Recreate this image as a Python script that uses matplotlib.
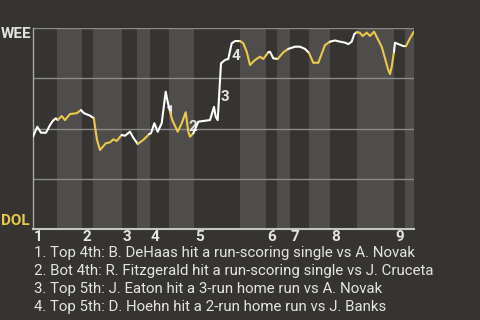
import matplotlib
matplotlib.use("Agg")
import matplotlib.pyplot as plt
from matplotlib.transforms import blended_transform_factory

# ---- data ----
# game progress (% of plays) and WEE win probability
progress = [0.0, 1.13, 2.10, 3.41, 4.46, 5.17, 5.96, 6.48, 7.53, 8.40,
            9.71, 11.47, 12.60, 13.39, 14.96, 15.96, 16.80, 17.59, 18.19, 19.08,
            20.21, 21.08, 21.97, 23.28, 24.15, 25.46, 26.33, 27.48, 28.95, 30.52,
            30.97, 31.84, 32.73, 33.78, 34.83, 35.35, 35.96, 36.56, 37.98, 39.03,
            40.08, 40.76, 41.21, 42.07, 43.39, 46.46, 47.51, 47.95, 48.48, 49.34,
            50.39, 51.26, 52.15, 53.02, 54.33, 55.20, 56.09, 56.96, 58.27, 59.58,
            60.45, 61.76, 62.20, 63.07, 64.23, 65.70, 67.01, 68.77, 70.08, 71.39,
            72.44, 73.57, 74.88, 76.64, 77.95, 79.27, 80.58, 81.89, 82.76, 83.65,
            84.33, 84.96, 85.75, 86.54, 87.59, 88.45, 89.50, 90.63, 91.52, 92.39,
            93.25, 93.70, 94.15, 94.75, 95.01, 95.88, 97.19, 97.90, 98.95, 100.0]
wee_wp = [0.459, 0.509, 0.479, 0.479, 0.517, 0.537, 0.551, 0.542, 0.562, 0.542,
          0.572, 0.576, 0.592, 0.576, 0.564, 0.551, 0.443, 0.393, 0.406, 0.426,
          0.431, 0.446, 0.438, 0.468, 0.464, 0.484, 0.454, 0.423, 0.443, 0.473,
          0.476, 0.526, 0.484, 0.526, 0.683, 0.633, 0.584, 0.542, 0.484, 0.526,
          0.581, 0.484, 0.459, 0.476, 0.534, 0.542, 0.608, 0.559, 0.542, 0.824,
          0.841, 0.846, 0.924, 0.935, 0.935, 0.924, 0.882, 0.816, 0.841, 0.857,
          0.846, 0.879, 0.882, 0.849, 0.846, 0.879, 0.896, 0.907, 0.907, 0.896,
          0.876, 0.827, 0.827, 0.915, 0.932, 0.938, 0.932, 0.927, 0.920, 0.932,
          0.970, 0.979, 0.977, 0.960, 0.977, 0.960, 0.982, 0.940, 0.907, 0.849,
          0.791, 0.771, 0.807, 0.882, 0.927, 0.920, 0.910, 0.910, 0.949, 0.982]

inning_labels = ["1", "2", "3", "4", "5", "6", "7", "8", "9"]
top_starts = [0.0, 12.86, 23.36, 30.71, 42.26, 61.15, 67.45, 77.95, 94.75]
bot_starts = [6.30, 15.75, 27.30, 35.70, 54.33, 64.04, 72.44, 85.04, 97.64]
game_end = 100.0

event_labels = ["1", "2", "3", "4"]
event_segment = [33, 40, 48, 51]   # play index where the key play starts
event_texts = [
    "1. Top 4th: B. DeHaas hit a run-scoring single vs A. Novak",
    "2. Bot 4th: R. Fitzgerald hit a run-scoring single vs J. Cruceta",
    "3. Top 5th: J. Eaton hit a 3-run home run vs A. Novak",
    "4. Top 5th: D. Hoehn hit a 2-run home run vs J. Banks",
]
away_team, home_team = "WEE", "DOL"

# ---- style ----
BG = "#363431"
BAND = "#4e4d4b"
GRID = "#8a8a88"
AXIS = "#c4c4c4"
WHITE = "#ffffff"
YELLOW = "#ecc94b"
TXT = "#e4e4e4"
FONT = "Roboto"

plt.rcParams["font.family"] = [FONT, "DejaVu Sans"]

fig = plt.figure(figsize=(4.8, 3.2), dpi=100, facecolor=BG)
W, H = 480, 320
ax = fig.add_axes([33 / W, (H - 229) / H, 381 / W, 201 / H])
ax.set_facecolor(BG)
ax.set_xlim(0, game_end)
ax.set_ylim(0, 1)

# bottom-half shading
next_tops = top_starts[1:] + [game_end]
for b, e in zip(bot_starts, next_tops):
    ax.axvspan(b, e, color=BAND, lw=0, zorder=0)

for g in [0.25, 0.5, 0.75, 1.0]:
    ax.axhline(g, color=GRID, lw=1.0, zorder=1)

for s in ["top", "right"]:
    ax.spines[s].set_visible(False)
ax.spines["left"].set_color("#a8a8a8")
ax.spines["left"].set_linewidth(1.0)
ax.spines["bottom"].set_color(AXIS)
ax.spines["bottom"].set_linewidth(1.5)
ax.set_xticks([])
ax.set_yticks([])


def half_of(xm):
    # True if top half (away batting)
    for t, b in zip(top_starts, bot_starts):
        if t <= xm < b:
            return True
    return False


# group consecutive segments by batting team
groups = []
cur = None
for i in range(len(progress) - 1):
    xm = (progress[i] + progress[i + 1]) / 2
    top = half_of(xm)
    if cur is None or cur[0] != top:
        cur = [top, [i]]
        groups.append(cur)
    cur[1].append(i + 1)
for top, idx in groups:
    ax.plot([progress[k] for k in idx], [wee_wp[k] for k in idx],
            color=WHITE if top else YELLOW, lw=1.5, solid_joinstyle="round",
            solid_capstyle="round", zorder=4)

# event labels
for lab, i in zip(event_labels, event_segment):
    xm = (progress[i] + progress[i + 1]) / 2
    ym = (wee_wp[i] + wee_wp[i + 1]) / 2
    ax.annotate(lab, xy=(xm, ym), xytext=(6, -5), textcoords="offset pixels",
                ha="center", va="center", color=TXT, fontsize=11,
                fontweight="bold", zorder=3)

# inning labels
trans = blended_transform_factory(ax.transData, ax.transAxes)
for lab, t in zip(inning_labels, top_starts):
    ax.annotate(lab, xy=(t, 0), xycoords=trans, xytext=(1, -1),
                textcoords="offset pixels", ha="left", va="top",
                color=TXT, fontsize=11, fontweight="bold", annotation_clip=False)

# team labels
fig.text(31 / W, 1 - 27.5 / H, away_team, ha="right", va="top", color=TXT,
         fontsize=11, fontweight="bold")
fig.text(29.5 / W, 1 - 225 / H, home_team, ha="right", va="baseline",
         color=YELLOW, fontsize=11, fontweight="bold")

# event descriptions
for k, t in enumerate(event_texts):
    fig.text(34 / W, 1 - (253.3 + 17.8 * k) / H, t, ha="left", va="center",
             color=TXT, fontsize=10.85)

fig.savefig("out.png", dpi=100, facecolor=BG)
